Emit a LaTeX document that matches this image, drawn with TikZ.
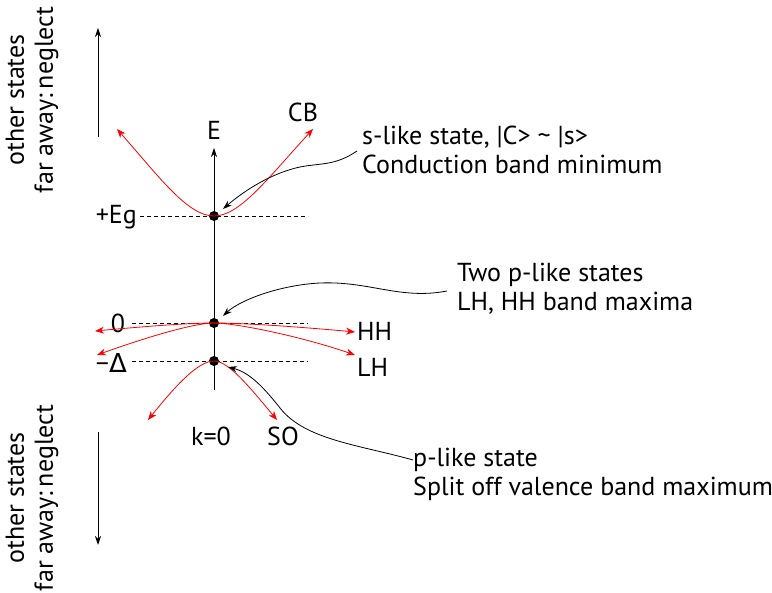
\documentclass[tikz,border=0pt]{standalone}
\usepackage{fontspec}
\setmainfont{PT Sans}
\newfontfamily\grk{DejaVu Sans}
\usetikzlibrary{arrows.meta}
\begin{document}
\begin{tikzpicture}[x=1pt,y=-1pt, font=\fontsize{26}{29}\selectfont,
 band/.style={red, line width=0.8pt, {Stealth[length=9pt,width=7pt]}-{Stealth[length=9pt,width=7pt]}},
 lead/.style={black, line width=0.8pt, -{Stealth[length=9pt,width=6pt]}},
 lvl/.style={dashed, line width=0.6pt, dash pattern=on 4pt off 3pt},
 dot/.style={circle, fill=black, inner sep=0pt, minimum size=10pt},
 lbl/.style={inner sep=0pt},
 txt/.style={inner sep=0pt, anchor=west, align=left},
 ]
\useasboundingbox (0,0) rectangle (772,593);
% axis
\coordinate (axb) at (214,390);
\coordinate (axt) at (214,148);
\draw[lead] (axb) -- (axt);
\node[lbl] (E) at (214,130) {E};
% levels
\coordinate (l1a) at (140,216); \coordinate (l1b) at (308,216);
\coordinate (l2a) at (132,323); \coordinate (l2b) at (308,323);
\coordinate (l3a) at (132,361); \coordinate (l3b) at (308,361);
\draw[lvl] (l1a) -- (l1b);
\draw[lvl] (l2a) -- (l2b);
\draw[lvl] (l3a) -- (l3b);
\node[lbl, anchor=east] (Eg) at (137,217) {+Eg};
\node[lbl] (zero) at (118,323) {0};
\node[lbl, anchor=east] (Dl) at (127,363) {−{\grk Δ}};
% dots
\node[dot] (c) at (214,216) {};
\node[dot] (v) at (214,323) {};
\node[dot] (s) at (214,361) {};
% bands
\coordinate (cbl) at (117,129); \coordinate (cbr) at (313,129);
\draw[band] (cbl) .. controls (160,178) and (188,216) .. (c.center) .. controls (240,216) and (268,178) .. (cbr);
\coordinate (hhl) at (95,331); \coordinate (hhr) at (355,332);
\draw[band] (hhl) .. controls (150,326) and (190,323) .. (v.center) .. controls (240,323) and (290,326) .. (hhr);
\coordinate (lhl) at (97,355); \coordinate (lhr) at (355,355);
\draw[band] (lhl) .. controls (150,336) and (195,323) .. (v.center) .. controls (235,323) and (300,336) .. (lhr);
\coordinate (sol) at (148,420); \coordinate (sor) at (277,420);
\draw[band] (sol) .. controls (180,380) and (200,361) .. (s.center) .. controls (228,361) and (248,385) .. (sor);
\node[lbl] (CB) at (303,112) {CB};
\node[lbl, anchor=west] (HH) at (357,331) {HH};
\node[lbl, anchor=west] (LH) at (357,367) {LH};
\node[lbl] (k0) at (211,436) {k=0};
\node[lbl] (SO) at (283,436) {SO};
% annotations
\node[txt] (t1) at (362,150) {s-like state, |C> \textasciitilde\ |s>\\Conduction band minimum};
\node[txt] (t2) at (457,289) {Two p-like states\\LH, HH band maxima};
\node[txt] (t3) at (413,474) {p-like state\\Split off valence band maximum};
\coordinate (a1) at (357,151);
\coordinate (a1e) at (223,209);
\draw[lead] (a1) .. controls (335,166) and (320,163) .. (300,167) .. controls (272,173) and (245,190) .. (a1e);
\coordinate (a2) at (447,291);
\coordinate (a2e) at (223,316);
\draw[lead] (a2) .. controls (400,300) and (370,281) .. (320,283) .. controls (280,285) and (240,300) .. (a2e);
\coordinate (a3) at (413,460);
\coordinate (a3e) at (228,367);
\draw[lead] (a3) .. controls (360,445) and (305,440) .. (280,408) .. controls (262,385) and (248,372) .. (a3e);
% far states
\coordinate (u1) at (98,137); \coordinate (u2) at (98,28);
\draw[lead] (u1) -- (u2);
\coordinate (d1) at (98,432); \coordinate (d2) at (98,545);
\draw[lead] (d1) -- (d2);
\node[lbl, rotate=90, align=center] (os1) at (32,100) {other states\\far away:\,neglect};
\node[lbl, rotate=90, align=center] (os2) at (32,498) {other states\\far away:\,neglect};
\end{tikzpicture}
\end{document}
